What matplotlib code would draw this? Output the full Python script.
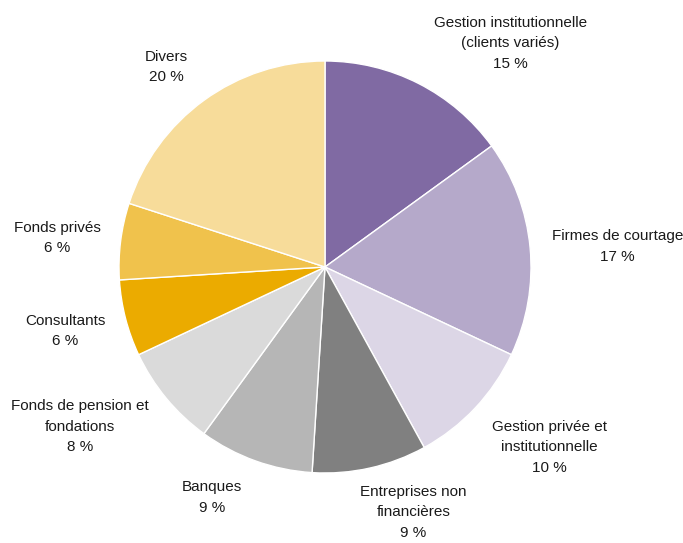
import matplotlib
matplotlib.use("Agg")
import matplotlib.pyplot as plt

# share of each client category, clockwise from 12 o'clock
labels = ["Gestion institutionnelle\n(clients variés)", "Firmes de courtage",
          "Gestion privée et\ninstitutionnelle", "Entreprises non\nfinancières",
          "Banques", "Fonds de pension et\nfondations", "Consultants",
          "Fonds privés", "Divers"]
values = [15, 17, 10, 9, 9, 8, 6, 6, 20]
colors = ["#806aa3", "#b5a9ca", "#dcd6e6", "#808080", "#b6b6b6",
          "#dadada", "#ebab00", "#f0c24c", "#f7dc9a"]

# where each label sits, in units of the pie radius
label_pos = [(0.90, 1.085), (1.42, 0.10), (1.09, -0.875), (0.43, -1.19),
             (-0.55, -1.12), (-1.19, -0.775), (-1.26, -0.31), (-1.30, 0.14),
             (-0.77, 0.97)]

plt.rcParams["font.family"] = ["Liberation Sans", "DejaVu Sans"]

fig = plt.figure(figsize=(6.83, 5.43), dpi=100)
ax = fig.add_axes([0, 0, 1, 1])
ax.pie(values, colors=colors, startangle=90, counterclock=False,
       wedgeprops={"edgecolor": "white", "linewidth": 1.0})
for lab, v, (x, y) in zip(labels, values, label_pos):
    ax.text(x, y, f"{lab}\n{v} %", ha="center", va="center",
            fontsize=11, linespacing=1.6, color="#1a1a1a")
ax.set_xlim(-325 / 206, 358 / 206)
ax.set_ylim(-276 / 206, 267 / 206)
ax.set_aspect("equal")
ax.axis("off")
fig.savefig("out.png", dpi=100)
